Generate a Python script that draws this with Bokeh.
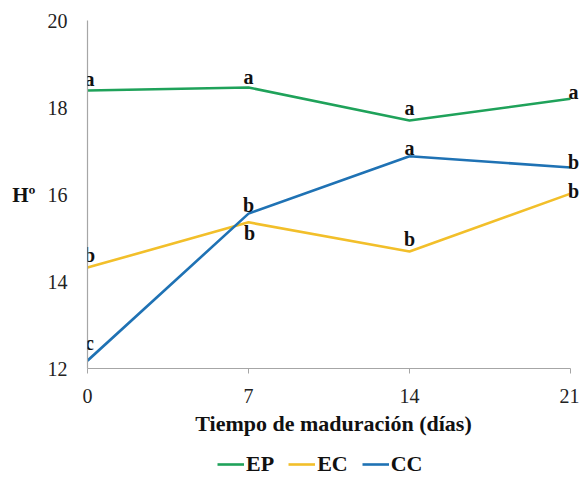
from bokeh.plotting import figure
from bokeh.layouts import column
from bokeh.models import ColumnDataSource, LabelSet, Legend, LegendItem, Range1d, FixedTicker
from bokeh.embed import file_html
from bokeh.resources import INLINE

# Maturation time (days)
dias = [0, 7, 14, 21]

# Hue angle (H°) per treatment
ep = [18.39, 18.46, 17.70, 18.20]
ec = [14.32, 15.36, 14.69, 16.02]
cc = [12.18, 15.56, 16.88, 16.62]

# Significance letters per point
ep_letras = ["a", "a", "a", "a"]
ec_letras = ["b", "b", "b", "b"]
cc_letras = ["c", "b", "a", "b"]

nombres = ["EP", "EC", "CC"]
colores = ["#1fa25a", "#f2bf2a", "#1f72b4"]

# letter offsets in screen pixels (dx right, dy up) for each point
desplazamientos = [
    [(2, 12), (0, 10), (0, 13), (3, 7)],
    [(2, 13), (1, -11), (0, 12), (3, 3)],
    [(2, 18), (0, 9), (0, 8), (3, 6)],
]

SERIF = "Liberation Serif"

p = figure(width=579, height=438, output_backend="svg", toolbar_location=None,
           x_range=Range1d(0, 21.39), y_range=Range1d(12, 20),
           min_border_left=87, min_border_right=0, min_border_top=20,
           min_border_bottom=70)
p.outline_line_color = None
p.xgrid.visible = False
p.ygrid.visible = False

# axes
for ax in (p.xaxis[0], p.yaxis[0]):
    ax.axis_line_color = "#a6a6a6"
    ax.axis_line_width = 1.2
    ax.major_tick_line_color = "#a6a6a6"
    ax.minor_tick_line_color = None
    ax.major_label_text_font = SERIF
    ax.major_label_text_font_size = "20px"
    ax.major_label_text_color = "#222222"
    ax.axis_label_text_font = SERIF
    ax.axis_label_text_font_style = "bold"
    ax.axis_label_text_color = "#111111"

p.xaxis.ticker = FixedTicker(ticks=dias)
p.xaxis.bounds = (0, 21)
p.xaxis.major_tick_in = 0
p.xaxis.major_tick_out = 5
p.xaxis.major_label_standoff = 15
p.xaxis.axis_label = "Tiempo de maduración (días)"
p.xaxis.axis_label_text_font_size = "22px"
p.xaxis.axis_label_standoff = 5

p.yaxis.ticker = FixedTicker(ticks=[12, 14, 16, 18, 20])
p.yaxis.major_tick_in = 0
p.yaxis.major_tick_out = 0
p.yaxis.major_label_standoff = 20
p.yaxis.axis_label = "Hº"
p.yaxis.axis_label_orientation = "horizontal"
p.yaxis.axis_label_text_font_size = "21px"
p.yaxis.axis_label_standoff = 9

series = [ep, ec, cc]
letras = [ep_letras, ec_letras, cc_letras]
for vals, lets, color, offs in zip(series, letras, colores, desplazamientos):
    p.line(dias, vals, line_color=color, line_width=2.6)
    src = ColumnDataSource(dict(x=dias, y=vals, t=lets,
                                dx=[o[0] for o in offs], dy=[o[1] for o in offs]))
    p.add_layout(LabelSet(x="x", y="y", text="t", source=src,
                          x_offset="dx", y_offset="dy",
                          text_align="center", text_baseline="middle",
                          text_font=SERIF, text_font_style="bold",
                          text_font_size="20px", text_color="#111111"))

# legend strip under the chart; its ranges keep the series lines out of view
q = figure(width=579, height=39, output_backend="svg", toolbar_location=None,
           x_range=Range1d(100, 101), y_range=Range1d(100, 101),
           x_axis_location=None, y_axis_location=None, min_border=0)
q.outline_line_color = None
q.xgrid.visible = False
q.ygrid.visible = False
items = []
for nombre, vals, color in zip(nombres, series, colores):
    r = q.line(dias, vals, line_color=color, line_width=2.6)
    items.append(LegendItem(label=nombre, renderers=[r]))
legend = Legend(items=items, orientation="horizontal", location=(130, 0),
                label_text_font=SERIF, label_text_font_style="bold",
                label_text_font_size="22px", label_text_color="#111111",
                glyph_width=27, label_standoff=2, spacing=14,
                label_height=20, glyph_height=20,
                border_line_color=None, background_fill_alpha=0,
                padding=0, margin=0)
q.add_layout(legend)

open("out.html", "w").write(file_html(column(p, q, spacing=0), INLINE))
